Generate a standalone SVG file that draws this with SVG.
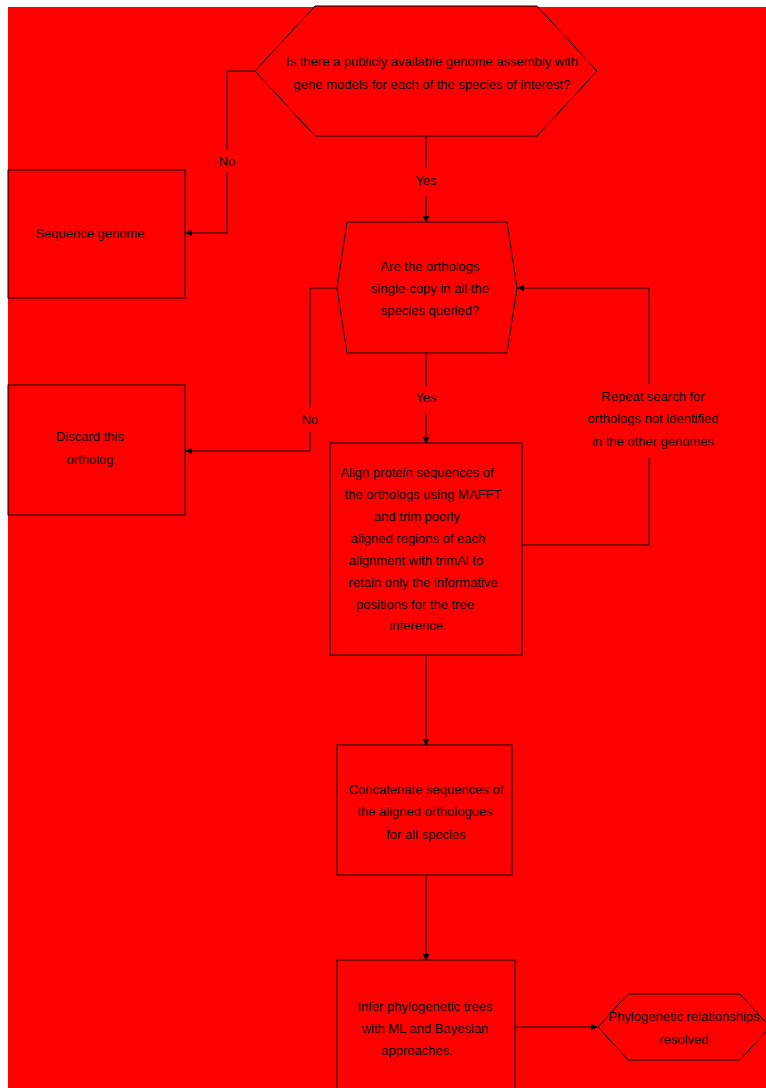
<svg xmlns="http://www.w3.org/2000/svg" width="766" height="1088" viewBox="0 0 766 1088">
  <style>
    .shape { fill: #ff0000; stroke: #000; stroke-width: 1; }
    .edge { fill: none; stroke: #000; stroke-width: 1; }
    text { font-family: "Liberation Sans", Arial, sans-serif; font-size: 13px; fill: #000; text-anchor: middle; }
    .lbl { fill: #ff0000; stroke: none; }
  </style>
  <defs>
    <marker id="arrow" viewBox="0 0 10 10" refX="9" refY="5" markerWidth="7" markerHeight="7" orient="auto" markerUnits="userSpaceOnUse">
      <path d="M0,0 L10,5 L0,10 z" fill="#000"/>
    </marker>
  </defs>

  <rect x="0" y="0" width="766" height="1088" fill="#fff"/>
  <rect x="8" y="7" width="758" height="1081" fill="#ff0000"/>

  <!-- connectors -->
  <g id="connectors">
    <path class="edge" d="M426,136 V222" marker-end="url(#arrow)"/>
    <path class="edge" d="M255,71 H227 V233 H186" marker-end="url(#arrow)"/>
    <path class="edge" d="M426,353 V443" marker-end="url(#arrow)"/>
    <path class="edge" d="M337,288 H310 V451 H186" marker-end="url(#arrow)"/>
    <path class="edge" d="M522,545 H649 V288 H518" marker-end="url(#arrow)"/>
    <path class="edge" d="M426,655 V745" marker-end="url(#arrow)"/>
    <path class="edge" d="M426,875 V960" marker-end="url(#arrow)"/>
    <path class="edge" d="M515,1027 H597" marker-end="url(#arrow)"/>

    <!-- edge labels -->
    <rect class="lbl" x="412" y="168" width="28" height="28"/>
    <text x="426" y="185">Yes</text>
    <rect class="lbl" x="214" y="150" width="26" height="22"/>
    <text x="227" y="166">No</text>
    <rect class="lbl" x="412" y="386" width="28" height="28"/>
    <text x="426" y="402">Yes</text>
    <rect class="lbl" x="298" y="408" width="24" height="24"/>
    <text x="310" y="424">No</text>
    <rect class="lbl" x="580" y="384" width="146" height="74"/>
    <text x="653" y="401">Repeat search for</text>
    <text x="653" y="423">orthologs not identified</text>
    <text x="653" y="446">in the other genomes</text>
  </g>

  <!-- start question -->
  <g id="node-genome-check">
    <polygon class="shape" points="255,71 315,6 537,6 597,71 537,136 315,136"/>
    <text x="432" y="66">Is there a publicly available genome assembly with</text>
    <text x="432" y="89">gene models for each of the species of interest?</text>
  </g>

  <g id="node-sequence">
    <rect class="shape" x="8" y="170" width="177" height="128"/>
    <text x="90" y="238">Sequence genome</text>
  </g>

  <g id="node-ortholog-check">
    <polygon class="shape" points="337,288 347,222 507,222 517,288 507,353 347,353"/>
    <text x="430" y="271">Are the orthologs</text>
    <text x="430" y="293">single-copy in all the</text>
    <text x="430" y="315">species queried?</text>
  </g>

  <g id="node-discard">
    <rect class="shape" x="8" y="385" width="177" height="130"/>
    <text x="90" y="441">Discard this</text>
    <text x="90" y="464">ortholog</text>
  </g>

  <g id="node-align">
    <rect class="shape" x="330" y="443" width="192" height="212"/>
    <text x="417" y="477">Align protein sequences of</text>
    <text x="423" y="499">the orthologs using MAFFT</text>
    <text x="417" y="521">and trim poorly</text>
    <text x="418" y="543">aligned regions of each</text>
    <text x="416" y="565">alignment with trimAl to</text>
    <text x="423" y="587">retain only the informative</text>
    <text x="415" y="609">positions for the tree</text>
    <text x="418" y="630">inference.</text>
  </g>

  <g id="node-concatenate">
    <rect class="shape" x="337" y="745" width="175" height="130"/>
    <text x="426" y="794">Concatenate sequences of</text>
    <text x="425" y="816">the aligned orthologues</text>
    <text x="426" y="839">for all species</text>
  </g>

  <g id="node-infer">
    <rect class="shape" x="337" y="960" width="178" height="132"/>
    <text x="425" y="1011">Infer phylogenetic trees</text>
    <text x="425" y="1033">with ML and Bayesian</text>
    <text x="417" y="1055">approaches.</text>
  </g>

  <g id="node-result">
    <polygon class="shape" points="598,1027 628,994 740,994 770,1027 740,1060 628,1060"/>
    <text x="684" y="1021">Phylogenetic relationships</text>
    <text x="684" y="1044">resolved</text>
  </g>
</svg>
